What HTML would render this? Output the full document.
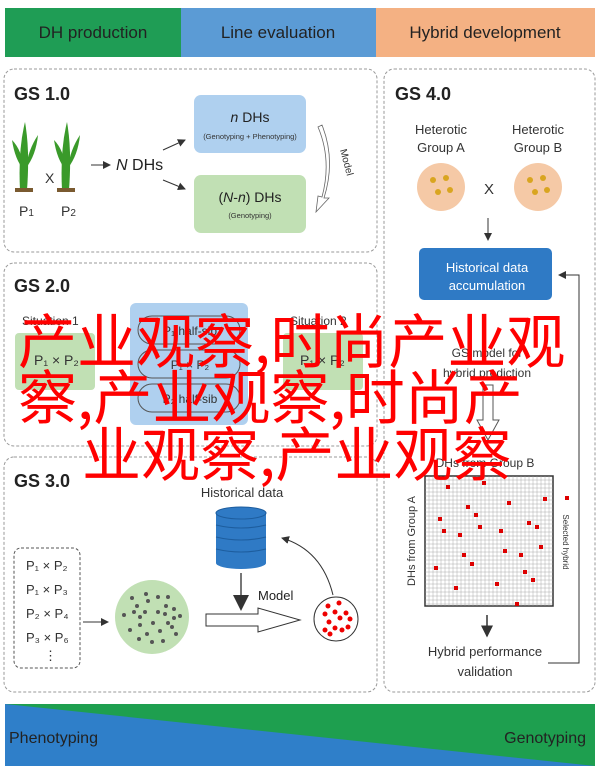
<!DOCTYPE html><html><head><meta charset="utf-8"><style>
body{margin:0;background:#fff;width:603px;height:774px;overflow:hidden;position:relative}
svg{display:block;font-family:"Liberation Sans",sans-serif}
.ov{position:absolute;white-space:nowrap;color:#f00;font:59px/57px "Noto Sans CJK SC","WenQuanYi Zen Hei",sans-serif;letter-spacing:0}
</style></head><body>
<svg width="603" height="774" viewBox="0 0 603 774">
<defs><marker id="a" markerWidth="8" markerHeight="8" refX="7" refY="4" orient="auto"><path d="M0,0 L8,4 L0,8 Z" fill="#333"/></marker></defs>
<rect x="5" y="8" width="176" height="49" fill="#1f9d55"/>
<rect x="181" y="8" width="195" height="49" fill="#5b9bd5"/>
<rect x="376" y="8" width="219" height="49" fill="#f4b183"/>
<text x="93" y="38" font-size="17" fill="#222" text-anchor="middle">DH production</text>
<text x="278" y="38" font-size="17" fill="#222" text-anchor="middle">Line evaluation</text>
<text x="485" y="38" font-size="17" fill="#222" text-anchor="middle">Hybrid development</text>
<g fill="none" stroke="#999" stroke-dasharray="3,2">
<rect x="4" y="69" width="373" height="183" rx="10"/>
<rect x="4" y="263" width="373" height="183" rx="10"/>
<rect x="4" y="457" width="373" height="235" rx="10"/>
<rect x="384" y="69" width="211" height="623" rx="10"/>
</g>
<g font-weight="bold" font-size="18" fill="#222"><text x="14" y="100">GS 1.0</text><text x="14" y="292">GS 2.0</text><text x="14" y="487">GS 3.0</text><text x="395" y="100">GS 4.0</text></g>
<!-- GS1 -->
<g fill="#3a9a2a"><path d="M20 190 Q18 150 25 122 Q30 150 27 190Z"/><path d="M62 190 Q60 150 67 122 Q72 150 69 190Z"/><path d="M12 140 Q22 150 24 170 Q15 160 12 140Z"/><path d="M38 135 Q28 150 26 168 Q36 155 38 135Z"/><path d="M54 140 Q64 150 66 170 Q57 160 54 140Z"/><path d="M80 135 Q70 150 68 168 Q78 155 80 135Z"/></g>
<rect x="15" y="188" width="18" height="4" fill="#7a5a30"/><rect x="57" y="188" width="18" height="4" fill="#7a5a30"/>
<text x="45" y="183" font-size="14" fill="#333">X</text>
<text x="19" y="216" font-size="14" fill="#333">P<tspan font-size="10">1</tspan></text>
<text x="61" y="216" font-size="14" fill="#333">P<tspan font-size="10">2</tspan></text>
<line x1="91" y1="165" x2="110" y2="165" stroke="#333" marker-end="url(#a)"/>
<text x="116" y="170" font-size="16" fill="#222"><tspan font-style="italic">N</tspan> DHs</text>
<line x1="163" y1="150" x2="185" y2="140" stroke="#333" marker-end="url(#a)"/>
<line x1="163" y1="180" x2="185" y2="189" stroke="#333" marker-end="url(#a)"/>
<rect x="194" y="95" width="112" height="58" rx="7" fill="#afd0ef"/>
<rect x="194" y="175" width="112" height="58" rx="7" fill="#c1e0b4"/>
<text x="250" y="122" font-size="14" text-anchor="middle" fill="#222"><tspan font-style="italic">n</tspan> DHs</text>
<text x="250" y="139" font-size="7.5" text-anchor="middle" fill="#333">(Genotyping + Phenotyping)</text>
<text x="250" y="202" font-size="14" text-anchor="middle" fill="#222">(<tspan font-style="italic">N</tspan>-<tspan font-style="italic">n</tspan>) DHs</text>
<text x="250" y="218" font-size="7.5" text-anchor="middle" fill="#333">(Genotyping)</text>
<path d="M322 125 Q336 160 324 198 L329 198 L316 212 L318 196 L322 197 Q332 160 318 127Z" fill="#fff" stroke="#666" stroke-width="0.8"/>
<text x="340" y="150" font-size="10" fill="#333" transform="rotate(75 340 150)">Model</text>
<!-- GS2 -->
<rect x="130" y="303" width="118" height="122" rx="6" fill="#afd0ef"/>
<rect x="15" y="333" width="80" height="57" rx="4" fill="#c1e0b4"/>
<rect x="283" y="333" width="80" height="57" rx="4" fill="#c1e0b4"/>
<text x="34" y="365" font-size="14" fill="#333">P₁ × P₂</text><text x="300" y="365" font-size="14" fill="#333">P₁ × P₂</text>
<g fill="none" stroke="#555"><rect x="138" y="316" width="102" height="28" rx="14"/><rect x="138" y="350" width="102" height="28" rx="14"/><rect x="138" y="384" width="102" height="28" rx="14"/></g>
<text x="190" y="335" font-size="12" text-anchor="middle" fill="#333">P₁ half-sib</text><text x="190" y="369" font-size="12" text-anchor="middle" fill="#333">P₁ × P₂</text><text x="190" y="403" font-size="12" text-anchor="middle" fill="#333">P₂ half-sib</text>
<text x="22" y="325" font-size="12" fill="#333">Situation 1</text><text x="290" y="325" font-size="12" fill="#333">Situation 2</text>
<!-- GS3 -->
<rect x="14" y="548" width="66" height="120" rx="7" fill="none" stroke="#555" stroke-dasharray="3,2"/>
<g font-size="13" fill="#333"><text x="26" y="570">P₁ × P₂</text><text x="26" y="594">P₁ × P₃</text><text x="26" y="618">P₂ × P₄</text><text x="26" y="642">P₃ × P₆</text><text x="44" y="660">⋮</text></g>
<line x1="83" y1="622" x2="108" y2="622" stroke="#333" marker-end="url(#a)"/>
<circle cx="152" cy="617" r="37" fill="#c1e0b4"/>
<g fill="#555"><circle cx="132" cy="598" r="2"/><circle cx="146" cy="594" r="2"/><circle cx="158" cy="597" r="2"/><circle cx="168" cy="597" r="2"/><circle cx="137" cy="606" r="2"/><circle cx="148" cy="601" r="2"/><circle cx="166" cy="606" r="2"/><circle cx="124" cy="615" r="2"/><circle cx="134" cy="612" r="2"/><circle cx="145" cy="612" r="2"/><circle cx="158" cy="612" r="2"/><circle cx="165" cy="614" r="2"/><circle cx="174" cy="609" r="2"/><circle cx="180" cy="616" r="2"/><circle cx="174" cy="618" r="2"/><circle cx="140" cy="617" r="2"/><circle cx="140" cy="625" r="2"/><circle cx="153" cy="623" r="2"/><circle cx="168" cy="623" r="2"/><circle cx="130" cy="630" r="2"/><circle cx="147" cy="634" r="2"/><circle cx="160" cy="631" r="2"/><circle cx="176" cy="634" r="2"/><circle cx="172" cy="627" r="2"/><circle cx="139" cy="639" r="2"/><circle cx="152" cy="642" r="2"/><circle cx="163" cy="641" r="2"/></g>
<text x="242" y="497" font-size="13" text-anchor="middle" fill="#333">Historical data</text>
<rect x="216" y="513" width="50" height="50" fill="#2f7ac5"/><ellipse cx="241" cy="513" rx="25" ry="6" fill="#2f7ac5" stroke="#1d5d9e"/><ellipse cx="241" cy="563" rx="25" ry="6" fill="#2f7ac5"/>
<g stroke="#1d5d9e"><path d="M216 525 Q241 531 266 525" fill="none"/><path d="M216 537 Q241 543 266 537" fill="none"/><path d="M216 549 Q241 555 266 549" fill="none"/></g>
<line x1="241" y1="573" x2="241" y2="609" stroke="#777" stroke-width="2" marker-end="url(#a)"/>
<text x="258" y="600" font-size="13" fill="#222">Model</text>
<path d="M206 614 L258 614 L258 608 L300 620 L258 632 L258 626 L206 626Z" fill="#fff" stroke="#333"/>
<circle cx="336" cy="619" r="22" fill="#fff" stroke="#333"/>
<g fill="#e00"><circle cx="328" cy="606" r="2.5"/><circle cx="339" cy="603" r="2.5"/><circle cx="325" cy="614" r="2.5"/><circle cx="335" cy="612" r="2.5"/><circle cx="346" cy="613" r="2.5"/><circle cx="340" cy="618" r="2.5"/><circle cx="350" cy="619" r="2.5"/><circle cx="329" cy="622" r="2.5"/><circle cx="325" cy="630" r="2.5"/><circle cx="335" cy="628" r="2.5"/><circle cx="342" cy="630" r="2.5"/><circle cx="348" cy="627" r="2.5"/><circle cx="330" cy="634" r="2.5"/></g>
<path d="M333 595 Q322 550 282 538" fill="none" stroke="#333" marker-end="url(#a)"/>
<!-- GS4 -->
<text x="441" y="134" font-size="13" text-anchor="middle" fill="#333">Heterotic</text><text x="441" y="152" font-size="13" text-anchor="middle" fill="#333">Group A</text>
<text x="538" y="134" font-size="13" text-anchor="middle" fill="#333">Heterotic</text><text x="538" y="152" font-size="13" text-anchor="middle" fill="#333">Group B</text>
<circle cx="441" cy="187" r="24" fill="#f5c9a6"/><circle cx="538" cy="187" r="24" fill="#f5c9a6"/>
<g fill="#d9a520"><circle cx="433" cy="180" r="3"/><circle cx="446" cy="178" r="3"/><circle cx="438" cy="192" r="3"/><circle cx="450" cy="190" r="3"/><circle cx="530" cy="180" r="3"/><circle cx="543" cy="178" r="3"/><circle cx="535" cy="192" r="3"/><circle cx="547" cy="190" r="3"/></g>
<text x="489" y="194" font-size="15" text-anchor="middle" fill="#333">X</text>
<line x1="488" y1="218" x2="488" y2="240" stroke="#333" marker-end="url(#a)"/>
<rect x="419" y="248" width="133" height="52" rx="5" fill="#2f7ac5"/>
<text x="487" y="272" font-size="13" text-anchor="middle" fill="#fff">Historical data</text><text x="487" y="290" font-size="13" text-anchor="middle" fill="#fff">accumulation</text>
<path d="M548 663 L579 663 L579 275 L559 275" fill="none" stroke="#333" marker-end="url(#a)"/>
<text x="487" y="357" font-size="12" text-anchor="middle" fill="#333">GS model for</text><text x="487" y="377" font-size="12" text-anchor="middle" fill="#333">hybrid prediction</text>
<path d="M483 385 L493 385 L493 420 L499 420 L488 440 L477 420 L483 420Z" fill="#fff" stroke="#555"/>
<text x="485" y="467" font-size="12" text-anchor="middle" fill="#333">DHs from Group B</text>
<rect x="425" y="476" width="128" height="130" fill="#fff" stroke="#333" stroke-width="1.5"/>
<g stroke="#999" stroke-width="0.4">
<path d="M429 476V606M433 476V606M437 476V606M441 476V606M445 476V606M449 476V606M453 476V606M457 476V606M461 476V606M465 476V606M469 476V606M473 476V606M477 476V606M481 476V606M485 476V606M489 476V606M493 476V606M497 476V606M501 476V606M505 476V606M509 476V606M513 476V606M517 476V606M521 476V606M525 476V606M529 476V606M533 476V606M537 476V606M541 476V606M545 476V606M549 476V606"/>
<path d="M425 480H553M425 484H553M425 488H553M425 492H553M425 496H553M425 500H553M425 504H553M425 508H553M425 512H553M425 516H553M425 520H553M425 524H553M425 528H553M425 532H553M425 536H553M425 540H553M425 544H553M425 548H553M425 552H553M425 556H553M425 560H553M425 564H553M425 568H553M425 572H553M425 576H553M425 580H553M425 584H553M425 588H553M425 592H553M425 596H553M425 600H553M425 604H553"/></g>
<g fill="#d00"><rect x="446" y="485" width="4" height="4"/><rect x="482" y="481" width="4" height="4"/><rect x="507" y="501" width="4" height="4"/><rect x="543" y="497" width="4" height="4"/><rect x="466" y="505" width="4" height="4"/><rect x="474" y="513" width="4" height="4"/><rect x="438" y="517" width="4" height="4"/><rect x="527" y="521" width="4" height="4"/><rect x="442" y="529" width="4" height="4"/><rect x="478" y="525" width="4" height="4"/><rect x="499" y="529" width="4" height="4"/><rect x="535" y="525" width="4" height="4"/><rect x="458" y="533" width="4" height="4"/><rect x="539" y="545" width="4" height="4"/><rect x="503" y="549" width="4" height="4"/><rect x="462" y="553" width="4" height="4"/><rect x="519" y="553" width="4" height="4"/><rect x="470" y="562" width="4" height="4"/><rect x="434" y="566" width="4" height="4"/><rect x="523" y="570" width="4" height="4"/><rect x="531" y="578" width="4" height="4"/><rect x="495" y="582" width="4" height="4"/><rect x="454" y="586" width="4" height="4"/><rect x="515" y="602" width="4" height="4"/><rect x="565" y="496" width="4" height="4"/></g>
<text x="415" y="541" font-size="11" text-anchor="middle" fill="#333" transform="rotate(-90 415 541)">DHs from Group A</text>
<text x="563" y="542" font-size="8" text-anchor="middle" fill="#333" transform="rotate(90 563 542)">Selected hybrid</text>
<line x1="487" y1="615" x2="487" y2="636" stroke="#333" stroke-width="1.5" marker-end="url(#a)"/>
<text x="485" y="656" font-size="13" text-anchor="middle" fill="#333">Hybrid performance</text><text x="485" y="676" font-size="13" text-anchor="middle" fill="#333">validation</text>
<!-- bottom -->
<rect x="5" y="704" width="590" height="62" fill="#1e9f4f"/>
<path d="M5 704 L595 766 L5 766Z" fill="#2f7fc9"/>
<text x="9" y="743" font-size="16" fill="#222">Phenotyping</text>
<text x="586" y="743" font-size="16" fill="#222" text-anchor="end">Genotyping</text>
</svg>
<div class="ov" style="left:18px;top:309px">产业观察,时尚产业观</div>
<div class="ov" style="left:18px;top:365px">察,产业观察,时尚产</div>
<div class="ov" style="left:82px;top:422px">业观察,产业观察</div>
</body></html>
